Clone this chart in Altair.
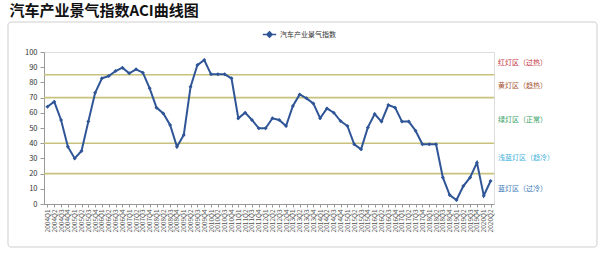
import altair as alt
import pandas as pd

# ---- data -------------------------------------------------------------
title_text = "汽车产业景气指数ACI曲线图"
series_name = "汽车产业景气指数"
years = list(range(2004, 2021))
quarters = [1, 2, 3, 4]
periods = [f"{y}Q{q}" for y in years for q in quarters][:66]  # 2004Q1 .. 2020Q2
aci = [64.0, 67.3, 55.3, 37.7, 30.0, 34.9, 54.2, 73.2, 82.7, 84.2,
       87.5, 89.7, 86.0, 88.6, 86.4, 76.1, 63.4, 59.6, 52.0, 37.7,
       45.4, 77.2, 91.4, 94.7, 85.3, 85.3, 85.3, 82.7, 56.4, 60.1,
       55.3, 49.8, 49.8, 56.4, 55.3, 51.3, 64.5, 72.1, 69.5, 66.2,
       56.4, 62.9, 60.1, 54.6, 51.3, 39.3, 36.0, 50.4, 59.2, 54.2,
       65.1, 63.4, 54.2, 54.2, 48.2, 39.3, 39.3, 39.3, 17.5, 5.9,
       2.6, 11.8, 17.5, 27.2, 5.5, 15.1]
y_ticks = [0, 10, 20, 30, 40, 50, 60, 70, 80, 90, 100]
thresholds = [20, 40, 70, 85]
zone_names = ["蓝灯区（过冷）", "浅蓝灯区（趋冷）", "绿灯区（正常）", "黄灯区（趋热）", "红灯区（过热）"]
zone_lo = [0, 20, 40, 70, 85]
zone_hi = [20, 40, 70, 85, 100]
zone_colors = ["#3a78b8", "#3fb0dc", "#35a066", "#a5502e", "#c4303c"]

# ---- tables -------------------------------------------------------------
df = pd.DataFrame({"period": periods, "aci": aci, "series": series_name})
df_thr = pd.DataFrame({"v": thresholds})
df_zone = pd.DataFrame({"name": zone_names, "lo": zone_lo, "hi": zone_hi, "c": zone_colors})
df_zone["mid"] = (df_zone["lo"] + df_zone["hi"]) / 2

LINE = "#2f5597"
W, H = 450, 152

x_enc = alt.X("period:O", sort=periods,
              scale=alt.Scale(type="point", padding=0.5),
              axis=alt.Axis(title=None, labelAngle=-90, labelFontSize=6.5,
                            labelColor="#555", labelOverlap=False, labelPadding=2,
                            tickSize=3, tickColor="#999", domainColor="#999",
                            labelBaseline="middle", labelAlign="right"))
y_scale = alt.Scale(domain=[0, 100], nice=False)
y_axis = alt.Axis(title=None, values=y_ticks,
                  labelFontSize=7.5, labelColor="#333", grid=False,
                  labelOverlap=False, labelFlush=False,
                  tickSize=4, tickColor="#999", domainColor="#999",
                  labelPadding=3)

frame = alt.Chart(pd.DataFrame({"a": [0]})).mark_rect(
    fill=None, stroke="#cfcfcf", strokeWidth=1, cornerRadius=3
).encode(x=alt.value(-36), x2=alt.value(553), y=alt.value(-30), y2=alt.value(195))

thr = alt.Chart(df_thr).mark_rule(color="#c8c27c", strokeWidth=1.6).encode(
    y=alt.Y("v:Q", scale=y_scale, axis=y_axis)
)

line = alt.Chart(df).mark_line(
    strokeWidth=2,
    point=alt.OverlayMarkDef(filled=True, size=16, shape="diamond", color=LINE),
).encode(
    x=x_enc,
    y=alt.Y("aci:Q", scale=y_scale, axis=y_axis),
    color=alt.Color("series:N", scale=alt.Scale(range=[LINE]),
                    legend=alt.Legend(title=None, orient="none", legendX=218, legendY=-25,
                                      labelFontSize=7, labelColor="#333",
                                      symbolType="M-1,0H1M0,-0.4L0.4,0L0,0.4L-0.4,0Z",
                                      symbolSize=180, symbolStrokeWidth=1.5,
                                      symbolFillColor=LINE, labelOffset=3)),
)

zones = alt.Chart(df_zone).mark_text(align="left", fontSize=7, baseline="middle").encode(
    x=alt.value(W + 4),
    y=alt.Y("mid:Q", scale=y_scale, axis=y_axis),
    text="name:N",
    color=alt.Color("c:N", scale=None),
)

chart = alt.layer(frame, thr, line, zones).properties(
    width=W, height=H,
    autosize=alt.AutoSizeParams(type="none"),
    padding={"left": 44, "top": 52, "right": 600 - 44 - W, "bottom": 254 - 52 - H},
    title=alt.TitleParams(title_text, anchor="start", dx=2, offset=3,
                          fontSize=15, fontWeight="bold", color="#111",
                          font="Noto Sans CJK SC"),
).configure_view(stroke="#b5b5b5", strokeWidth=1).configure(
    font="Noto Sans CJK SC", background="white"
).resolve_scale(color="independent")

chart.save("out.html", embed_options={"renderer": "svg", "actions": False})
